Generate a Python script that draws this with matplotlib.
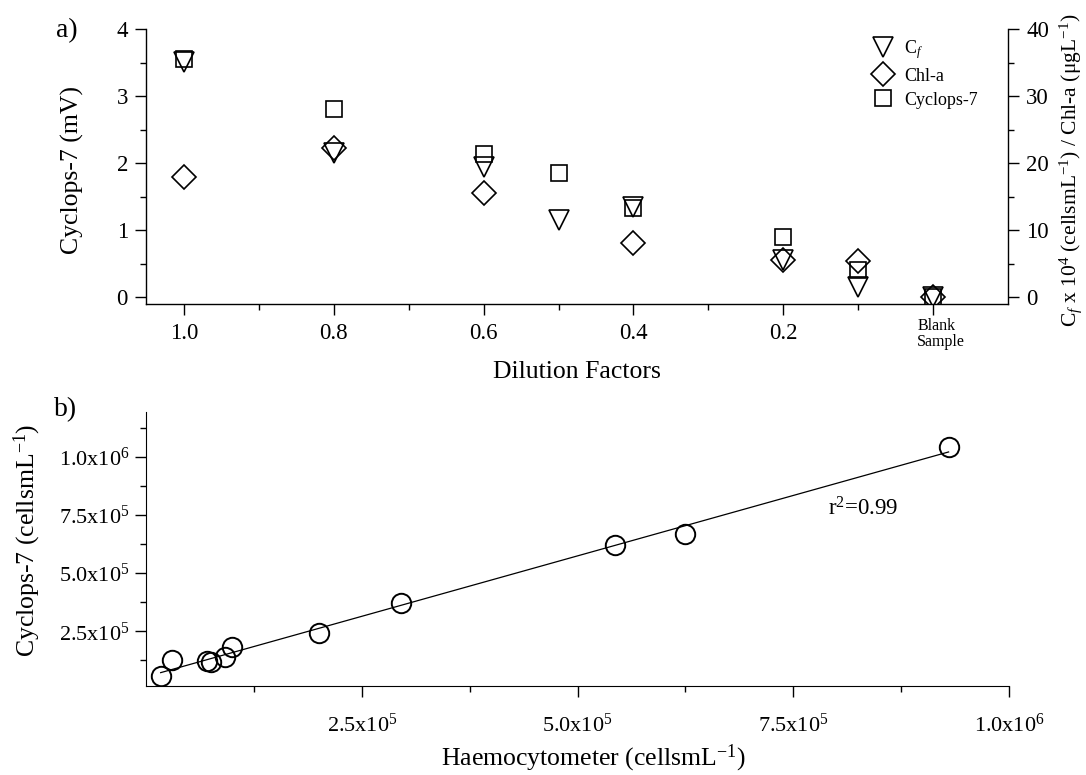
import numpy as np
import matplotlib
matplotlib.use("Agg")
import matplotlib.pyplot as plt
from matplotlib.ticker import FixedLocator, FuncFormatter

plt.rcParams['font.family'] = ['Liberation Serif', 'DejaVu Serif']
plt.rcParams['mathtext.fontset'] = 'custom'
plt.rcParams['mathtext.rm'] = 'Liberation Serif'
plt.rcParams['mathtext.it'] = 'Liberation Serif:italic'
plt.rcParams['mathtext.bf'] = 'Liberation Serif:bold'

# ---- panel a data ----
dilution = [1.0, 0.8, 0.6, 0.5, 0.4, 0.2, 0.1, 0.0]
cyclops_mv = [3.56, 2.81, 2.14, 1.85, 1.33, 0.90, 0.41, 0.0]
cf_values = [35.1, 21.5, 19.5, 11.5, 13.4, 5.6, 1.6, 0.0]
chla_values = [18.0, 22.2, 15.6, np.nan, 8.1, 5.6, 5.4, 0.0]
xtick_major = [1.0, 0.8, 0.6, 0.4, 0.2, 0.0]
xtick_labels = ['1.0', '0.8', '0.6', '0.4', '0.2', '']
blank_label = 'Blank\nSample'

# ---- panel b data ----
haemo = [1.7e4, 3.0e4, 7.1e4, 7.5e4, 9.1e4, 1.0e5, 2.0e5, 2.95e5, 5.44e5, 6.25e5, 9.30e5]
cyclops_cells = [5.5e4, 1.28e5, 1.21e5, 1.18e5, 1.38e5, 1.83e5, 2.44e5, 3.70e5, 6.2e5, 6.7e5, 1.045e6]

W, H = 1086, 775
fig = plt.figure(figsize=(W / 100, H / 100), dpi=100)

def fx(px):
    return px / W

def fy(py):
    return 1 - py / H

TF = fig.transFigure

# ---------- panel a ----------
ax = fig.add_axes([fx(146), fy(304), fx(1008) - fx(146), fy(29) - fy(304)])
ax2 = ax.twinx()
lw = 1.2
ax.plot(dilution, cyclops_mv, ls='none', marker='s', ms=12, mfc='none', mec='black', mew=lw)
h_cf, = ax2.plot(dilution, cf_values, ls='none', marker='v', ms=14.5, mfc='none', mec='black', mew=lw,
                 label='C$_f$')
h_ch, = ax2.plot(dilution, chla_values, ls='none', marker='D', ms=11.8, mfc='none', mec='black', mew=lw,
                 label='Chl-a')
h_cy, = ax.plot([], [], ls='none', marker='s', ms=12, mfc='none', mec='black', mew=lw, label='Cyclops-7')

ax.set_xlim(1.0507, -0.1)
ax.set_ylim(-0.1, 4.0)
ax2.set_ylim(-1.0, 40.0)

for a in (ax, ax2):
    a.spines['top'].set_visible(False)
ax.spines['right'].set_visible(False)
ax2.spines['left'].set_visible(False)
ax2.spines['bottom'].set_visible(False)
for a in (ax, ax2):
    for s in a.spines.values():
        s.set_linewidth(1.0)

ax.xaxis.set_major_locator(FixedLocator(xtick_major))
ax.set_xticklabels(xtick_labels)
ax.xaxis.set_minor_locator(FixedLocator([0.9, 0.7, 0.5, 0.3, 0.1]))
ax.yaxis.set_major_locator(FixedLocator([0, 1, 2, 3, 4]))
ax.yaxis.set_minor_locator(FixedLocator([0.5, 1.5, 2.5, 3.5]))
ax2.yaxis.set_major_locator(FixedLocator([0, 10, 20, 30, 40]))
ax2.yaxis.set_minor_locator(FixedLocator([5, 15, 25, 35]))

for a in (ax, ax2):
    a.tick_params(which='major', direction='out', length=8, width=1.0, labelsize=16.5, pad=5)
    a.tick_params(which='minor', direction='out', length=4.5, width=1.0)
ax.tick_params(axis='x', which='major', pad=6)

ax.annotate(blank_label, xy=(0.0, 0.0), xycoords=('data', 'axes fraction'),
            xytext=(-11.5, -10), textcoords='offset points', ha='left', va='top',
            fontsize=11.5, linespacing=1.05)

ax.set_ylabel('Cyclops-7 (mV)', fontsize=18.5)
ax.yaxis.label.set_va('center')
ax.yaxis.set_label_coords(fx(72), fy(170), transform=TF)
ax.set_xlabel('Dilution Factors', fontsize=18.5)
ax.xaxis.label.set_va('center')
ax.xaxis.set_label_coords(fx(577), fy(372), transform=TF)
ax2.set_ylabel(r'C$_f$ x 10$^4$ (cellsmL$^{-1}$) / Chl-a ($\mathrm{\mu}$gL$^{-1}$)', fontsize=15.5)
ax2.yaxis.label.set_va('center')
ax2.yaxis.set_label_coords(fx(1071), fy(170), transform=TF)

leg = ax2.legend(handles=[h_cf, h_ch, h_cy], loc='upper left', bbox_to_anchor=(fx(870), fy(38)),
                 bbox_transform=TF, frameon=False, fontsize=13, handletextpad=0.5,
                 labelspacing=0.38, borderaxespad=0, borderpad=0, handlelength=1.4)

fig.text(fx(56), fy(31), 'a)', fontsize=20, va='center', ha='left')

# ---------- panel b ----------
bx = fig.add_axes([fx(146), fy(686), fx(1009) - fx(146), fy(412) - fy(686)])
bx.plot(haemo, cyclops_cells, ls='none', marker='o', ms=14, mfc='none', mec='black', mew=1.4)
slope, intercept = np.polyfit(haemo, cyclops_cells, 1)
xs = np.array([min(haemo), max(haemo)])
bx.plot(xs, slope * xs + intercept, color='black', lw=0.9)
bx.text(7.9e5, 7.78e5, r'r$^2$=0.99', fontsize=16.5, va='center', ha='left')

bx.set_xlim(0, 1.0e6)
bx.set_ylim(1.4e4, 1.194e6)
bx.spines['top'].set_visible(False)
bx.spines['right'].set_visible(False)
bx.xaxis.set_major_locator(FixedLocator([2.5e5, 5.0e5, 7.5e5, 1.0e6]))
bx.xaxis.set_minor_locator(FixedLocator([1.25e5, 3.75e5, 6.25e5, 8.75e5]))
bx.yaxis.set_major_locator(FixedLocator([2.5e5, 5.0e5, 7.5e5, 1.0e6]))
bx.yaxis.set_minor_locator(FixedLocator([1.25e5, 3.75e5, 6.25e5, 8.75e5, 1.125e6]))

def sci(v, pos=None):
    e = int(np.floor(np.log10(v)))
    m = v / 10 ** e
    return r'%.1fx10$^{%d}$' % (m, e)

bx.xaxis.set_major_formatter(FuncFormatter(sci))
bx.yaxis.set_major_formatter(FuncFormatter(sci))
bx.tick_params(which='major', direction='out', length=8, width=1.0, labelsize=16, pad=12)
bx.tick_params(which='minor', direction='out', length=4.5, width=1.0)
bx.tick_params(axis='y', which='major', pad=4)
bx.set_xlabel(r'Haemocytometer (cellsmL$^{-1}$)', fontsize=18.5)
bx.xaxis.label.set_va('center')
bx.xaxis.set_label_coords(fx(593), fy(758), transform=TF)
bx.set_ylabel(r'Cyclops-7 (cellsmL$^{-1}$)', fontsize=18.5)
bx.yaxis.label.set_va('center')
bx.yaxis.set_label_coords(fx(27), fy(540), transform=TF)

fig.text(fx(54), fy(410), 'b)', fontsize=20, va='center', ha='left')

fig.savefig('out.png', dpi=100)
